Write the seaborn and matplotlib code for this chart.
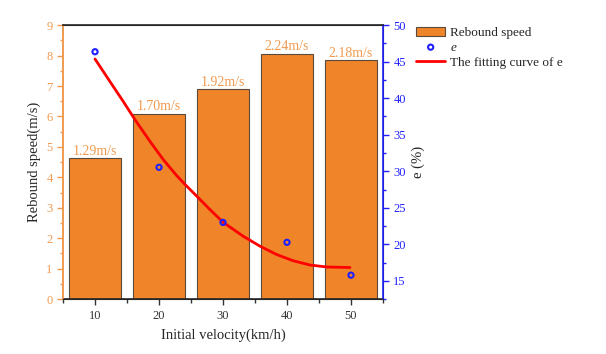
import numpy as np
import pandas as pd
import matplotlib
matplotlib.use("Agg")
import matplotlib.pyplot as plt
from matplotlib.ticker import MultipleLocator
import seaborn as sns

# values
velocity = [10, 20, 30, 40, 50]
rebound_speed = [4.63, 6.09, 6.89, 8.06, 7.84]
speed_labels = ["1.29m/s", "1.70m/s", "1.92m/s", "2.24m/s", "2.18m/s"]
e_values = [46.36, 30.54, 23.0, 20.27, 15.78]

# fitted curve of e, traced point by point
fit_x = [10, 12.34, 14.42, 16.25, 18.59, 20.67, 22.77, 24.06, 26.0, 27.97, 30.05,
         33.17, 35.78, 38.39, 40.98, 43.59, 46.2, 49.84]
fit_e = [45.36, 42.27, 39.54, 37.05, 34.09, 31.59, 29.4, 28.2, 26.5, 24.75, 23.0,
         21.1, 19.75, 18.6, 17.75, 17.17, 16.9, 16.83]

sns.set_style("white")
plt.rcParams['font.family'] = ['Liberation Serif', 'DejaVu Serif']

bar_col = "#EF8429"
lab_col = "#F09A50"
blue = "#2020FF"

df = pd.DataFrame({"v": velocity, "s": rebound_speed})
df_e = pd.DataFrame({"v": velocity, "e": e_values})
df_fit = pd.DataFrame({"v": fit_x, "e": fit_e})

fig = plt.figure(figsize=(6.06, 3.54), dpi=100)
ax = fig.add_axes([0.104, 0.155, 0.528, 0.774])

sns.barplot(data=df, x="v", y="s", native_scale=True, width=0.8, color=bar_col,
            saturation=1, edgecolor="#5b4a3c", linewidth=0.8, ax=ax,
            label="Rebound speed")
if ax.get_legend() is not None:
    ax.get_legend().remove()
for xv, yv, t in zip(velocity, rebound_speed, speed_labels):
    ax.text(xv, yv + 0.02, t, ha="center", va="bottom", color=lab_col, fontsize=10)

ax.set_xlim(5, 55)
ax.set_ylim(0, 9)
ax.xaxis.set_major_locator(MultipleLocator(10))
ax.xaxis.set_minor_locator(MultipleLocator(5))
ax.yaxis.set_major_locator(MultipleLocator(1))
ax.yaxis.set_minor_locator(MultipleLocator(0.5))
ax.set_xlabel("Initial velocity(km/h)", fontsize=10.5, labelpad=5)
ax.set_ylabel("Rebound speed(m/s)", fontsize=10.5)
ax.tick_params(axis="x", which="both", direction="out", bottom=True,
               labelsize=9, colors="#333333", width=1)
ax.tick_params(axis="x", which="major", length=4)
ax.tick_params(axis="x", which="minor", length=3)
ax.tick_params(axis="y", which="both", direction="out", left=True,
               colors=lab_col, labelsize=9, width=1)
ax.tick_params(axis="y", which="major", length=4)
ax.tick_params(axis="y", which="minor", length=2.5)
ax.spines["left"].set_color(lab_col)
ax.spines["left"].set_linewidth(1.2)
ax.spines["bottom"].set_linewidth(1.2)

ax2 = ax.twinx()
sns.lineplot(data=df_fit, x="v", y="e", color="red", linewidth=2, ax=ax2,
             label="The fitting curve of e", legend=False)
sns.scatterplot(data=df_e, x="v", y="e", marker="o", s=14, facecolor="none",
                edgecolor=blue, linewidth=1.5, ax=ax2, label="e", legend=False,
                zorder=5)
ax2.set_ylim(12.5, 50)
ax2.yaxis.set_major_locator(MultipleLocator(5))
ax2.yaxis.set_minor_locator(MultipleLocator(2.5))
ax2.set_ylabel("e (%)", fontsize=10.5, labelpad=4)
ax2.tick_params(axis="y", which="both", direction="out", right=True,
                colors=blue, labelsize=9, width=1)
ax2.tick_params(axis="y", which="major", length=4)
ax2.tick_params(axis="y", which="minor", length=2.5)
ax2.tick_params(axis="x", which="both", top=True, direction="in", colors="#333333")
ax2.xaxis.set_major_locator(MultipleLocator(10))
ax2.xaxis.set_minor_locator(MultipleLocator(5))
ax2.tick_params(axis="x", which="major", length=4, width=1)
ax2.tick_params(axis="x", which="minor", length=3, width=1)
ax2.spines["right"].set_color(blue)
ax2.spines["right"].set_linewidth(1.2)
ax2.spines["left"].set_color(lab_col)
ax2.spines["left"].set_linewidth(1.2)
ax2.spines["top"].set_linewidth(1.2)

h1, l1 = ax.get_legend_handles_labels()
h2, l2 = ax2.get_legend_handles_labels()
handles = h1 + [h2[1], h2[0]]
labels = l1 + [l2[1], l2[0]]
leg = fig.legend(handles, labels, loc="upper left", bbox_to_anchor=(0.678, 0.94),
                 frameon=False, fontsize=9.5, handlelength=2.2, handletextpad=0.4,
                 labelspacing=0.2, borderaxespad=0)
leg.get_texts()[1].set_fontstyle("italic")

fig.savefig("out.png", dpi=100)
